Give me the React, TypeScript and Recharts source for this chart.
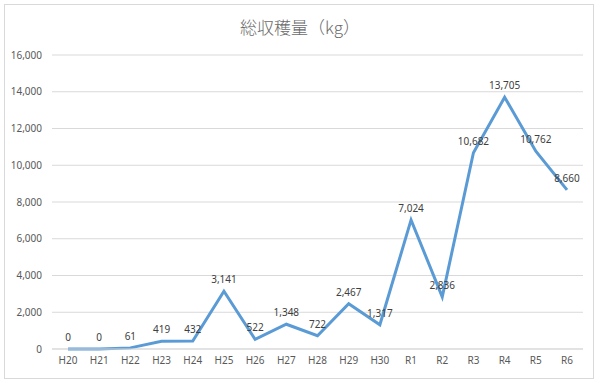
import React from 'react';
import { LineChart, Line, XAxis, YAxis, CartesianGrid, LabelList } from 'recharts';

const years = ['H20','H21','H22','H23','H24','H25','H26','H27','H28','H29','H30','R1','R2','R3','R4','R5','R6'];
const harvest = [0,0,61,419,432,3141,522,1348,722,2467,1317,7024,2836,10682,13705,10762,8660];
const yTicks = [0,2000,4000,6000,8000,10000,12000,14000,16000];

const data = years.map((y, i) => ({ year: y, kg: harvest[i] }));
const fmt = (v: number) => v.toLocaleString('en-US');
const font = '"Noto Sans", "Noto Sans CJK JP", sans-serif';

export default function App(){
  return (
    <div style={{ position:'absolute', left:0, top:0, width:600, height:383, background:'#fff', fontFamily:font }}>
      <div style={{ position:'absolute', left:4, top:4, width:590, height:375, border:'1px solid #d9d9d9', boxSizing:'border-box' }} />
      <div style={{ position:'absolute', left:0, top:14, width:600, textAlign:'center', fontSize:17, color:'#6b6b6b', fontFamily:'"Noto Sans CJK JP", sans-serif', fontWeight:300 }}>
        総収穫量（kg）
      </div>
      <div style={{ position:'absolute', left:0, top:0 }}>
        <LineChart width={600} height={383} data={data} margin={{ top:55, right:17, left:0, bottom:0 }}>
          <CartesianGrid vertical={false} stroke="#d9d9d9" />
          <XAxis dataKey="year" height={34} tickLine={false} axisLine={{ stroke:'#d9d9d9' }} tickSize={0} tickMargin={8}
            padding={{ left:16, right:16 }} tick={{ fontSize:10, fill:'#595959' }} interval={0} />
          <YAxis width={52} domain={[0,16000]} ticks={yTicks} tickFormatter={fmt} tickLine={false} axisLine={false}
            tickSize={0} tickMargin={10} tick={{ fontSize:10, fill:'#595959' }} />
          <Line type="linear" dataKey="kg" stroke="#5b9bd5" strokeWidth={3} dot={false} isAnimationActive={false}>
            <LabelList dataKey="kg" position="top" offset={8} formatter={(v: any) => fmt(Number(v))}
              style={{ fontSize:10, fill:'#404040' }} />
          </Line>
        </LineChart>
      </div>
    </div>
  );
}
